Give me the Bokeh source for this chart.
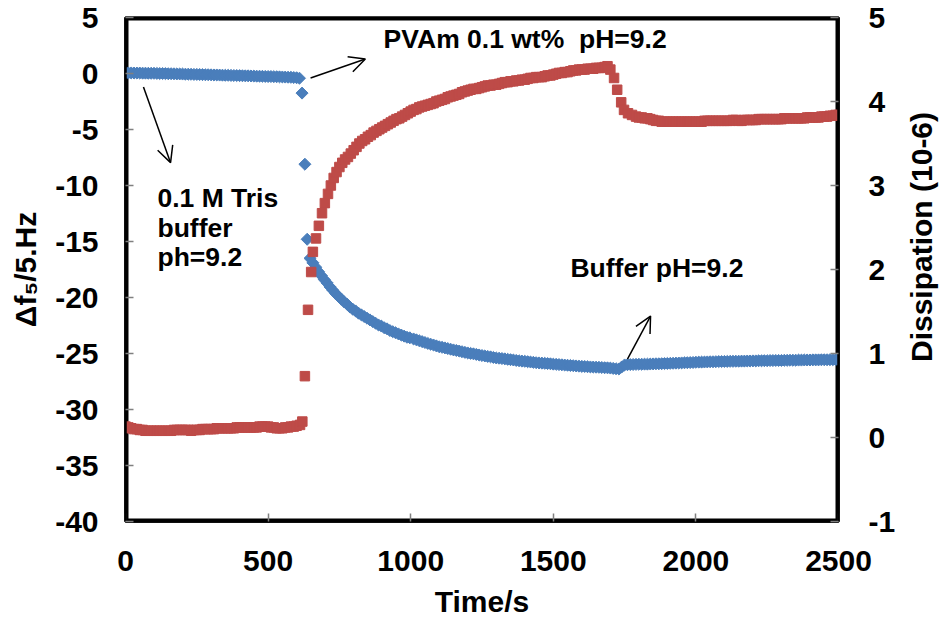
import numpy as np
from bokeh.plotting import figure
from bokeh.layouts import row
from bokeh.models import (Range1d, LinearAxis, FixedTicker, Label, Arrow, OpenHead,
                          CustomJSTickFormatter)
from bokeh.core.properties import value
from bokeh.embed import file_html
from bokeh.resources import INLINE

# ---- data: frequency shift  Δf5/5 (Hz), left axis (sampled every ~10 s) ----
time_f = (list(range(0, 611, 10)) + [619, 629, 637, 647]
          + list(range(657, 1000, 10)) + list(range(1010, 2501, 10)))
freq_shift = [
    0.05, 0.05, 0.05, 0.04, 0.04, 0.04, 0.03, 0.03, 0.02, 0.02,
    0.02, 0.01, 0.0, 0.0, -0.01, -0.02, -0.02, -0.03, -0.04, -0.04,
    -0.05, -0.06, -0.06, -0.07, -0.08, -0.08, -0.09, -0.1, -0.11, -0.11,
    -0.12, -0.13, -0.13, -0.14, -0.15, -0.16, -0.16, -0.17, -0.18, -0.18,
    -0.19, -0.2, -0.21, -0.21, -0.22, -0.23, -0.24, -0.24, -0.25, -0.26,
    -0.27, -0.27, -0.28, -0.29, -0.3, -0.31, -0.32, -0.33, -0.34, -0.36,
    -0.38, -0.42,
    -1.75, -8.1, -14.8, -16.5,
    -16.9, -17.3, -17.7, -18.05, -18.4, -18.7, -19.05, -19.35, -19.65, -19.9,
    -20.15, -20.4, -20.6, -20.85, -21.05, -21.2, -21.4, -21.55, -21.7, -21.85,
    -22.0, -22.15, -22.3, -22.45, -22.55, -22.7, -22.8, -22.95, -23.05, -23.15,
    -23.25, -23.35, -23.45, -23.55, -23.6,
    -23.7, -23.78, -23.86, -23.94, -24.02, -24.1, -24.17, -24.24, -24.32, -24.4,
    -24.45, -24.5, -24.56, -24.62, -24.68, -24.73, -24.78, -24.84, -24.9, -24.95,
    -24.99, -25.03, -25.08, -25.13, -25.18, -25.22, -25.26, -25.3, -25.35, -25.4,
    -25.42, -25.45, -25.48, -25.52, -25.55, -25.58, -25.62, -25.65, -25.68, -25.7,
    -25.73, -25.76, -25.79, -25.82, -25.84, -25.86, -25.88, -25.9, -25.92, -25.95,
    -25.97, -25.99, -26.01, -26.03, -26.05, -26.07, -26.09, -26.11, -26.13, -26.15,
    -26.16, -26.18, -26.2, -26.21, -26.22, -26.23, -26.25, -26.27, -26.28, -26.3,
    -26.33, -26.36, -26.38, -26.2, -26.02, -26.0, -25.99, -25.98, -25.97, -25.96,
    -25.96, -25.95, -25.95, -25.94, -25.93, -25.92, -25.92, -25.91, -25.9, -25.89,
    -25.88, -25.87, -25.86, -25.85, -25.84, -25.83, -25.82, -25.81, -25.8, -25.78,
    -25.77, -25.77, -25.76, -25.75, -25.74, -25.74, -25.73, -25.72, -25.72, -25.71,
    -25.71, -25.7, -25.7, -25.69, -25.69, -25.68, -25.68, -25.67, -25.67, -25.66,
    -25.66, -25.65, -25.65, -25.64, -25.64, -25.63, -25.63, -25.62, -25.62, -25.62,
    -25.61, -25.61, -25.6, -25.6, -25.6, -25.59, -25.59, -25.58, -25.58, -25.58,
    -25.57, -25.57, -25.57, -25.56, -25.56, -25.56, -25.55, -25.55, -25.55, -25.55]

# ---- data: dissipation (10^-6), right axis ----
time_d = (list(range(0, 601, 10)) + [612, 620, 629, 640, 651, 657, 668, 678, 689, 699]
          + list(range(710, 1701, 10)) + [1713, 1724, 1738, 1748, 1762, 1776]
          + list(range(1790, 2501, 10)))
dissipation = [
    0.13, 0.12, 0.11, 0.10, 0.10, 0.09, 0.09, 0.08, 0.08, 0.08,
    0.08, 0.08, 0.08, 0.08, 0.08, 0.08, 0.08, 0.09, 0.09, 0.09,
    0.09, 0.09, 0.09, 0.08, 0.09, 0.09, 0.09, 0.10, 0.10, 0.10,
    0.10, 0.10, 0.11, 0.11, 0.11, 0.11, 0.11, 0.11, 0.11, 0.12,
    0.12, 0.12, 0.12, 0.12, 0.12, 0.12, 0.12, 0.13, 0.13, 0.13,
    0.13, 0.12, 0.12, 0.11, 0.11, 0.11, 0.12, 0.12, 0.13, 0.13,
    0.14,
    0.15, 0.19, 0.73, 1.52, 1.97, 2.21, 2.37, 2.52, 2.67, 2.79,
    2.90, 3.00, 3.09, 3.16, 3.22, 3.27, 3.31, 3.34, 3.38, 3.42,
    3.46, 3.50, 3.53, 3.55, 3.58, 3.60, 3.63, 3.65, 3.67, 3.69,
    3.71, 3.73, 3.75, 3.77, 3.79, 3.80, 3.82, 3.84, 3.86, 3.88,
    3.90, 3.91, 3.93, 3.94, 3.95, 3.96, 3.97, 3.98, 4.00, 4.01,
    4.02, 4.03, 4.05, 4.06, 4.07, 4.08, 4.09, 4.11, 4.12, 4.13,
    4.14, 4.15, 4.15, 4.16, 4.17, 4.18, 4.19, 4.19, 4.20, 4.20,
    4.21, 4.22, 4.23, 4.23, 4.24, 4.24, 4.25, 4.25, 4.26, 4.26,
    4.27, 4.28, 4.28, 4.29, 4.29, 4.29, 4.30, 4.31, 4.31, 4.32,
    4.33, 4.34, 4.34, 4.35, 4.35, 4.36, 4.37, 4.37, 4.38, 4.38,
    4.38, 4.39, 4.39, 4.39, 4.40, 4.40, 4.40, 4.41, 4.42, 4.38,
    4.28, 4.14, 3.99, 3.90, 3.86, 3.84,
    3.82, 3.81, 3.81, 3.80, 3.80, 3.79, 3.78, 3.77, 3.77, 3.76,
    3.76, 3.76, 3.76, 3.76, 3.76, 3.76, 3.76, 3.76, 3.76, 3.76,
    3.76, 3.76, 3.76, 3.76, 3.77, 3.77, 3.77, 3.77, 3.77, 3.77,
    3.77, 3.77, 3.77, 3.77, 3.78, 3.78, 3.77, 3.77, 3.78, 3.78,
    3.78, 3.78, 3.78, 3.79, 3.79, 3.79, 3.79, 3.79, 3.79, 3.79,
    3.79, 3.79, 3.80, 3.80, 3.80, 3.80, 3.80, 3.80, 3.80, 3.80,
    3.81, 3.81, 3.81, 3.81, 3.81, 3.82, 3.82, 3.82, 3.83, 3.83,
    3.84, 3.84]

assert len(time_f) == len(freq_shift), (len(time_f), len(freq_shift))
assert len(time_d) == len(dissipation), (len(time_d), len(dissipation))

x_range_limits = (0, 2500)
left_limits = (-40, 5)
right_limits = (-1, 5)
x_ticks = [0, 500, 1000, 1500, 2000, 2500]
left_ticks = [-40, -35, -30, -25, -20, -15, -10, -5, 0, 5]
right_ticks = [-1, 0, 1, 2, 3, 4, 5]
right_title = "Dissipation (10-6)"

FONT = "Liberation Sans"
BLUE = "#4a7ebb"
RED = "#be4b48"

MAIN_W, TITLE_W, H = 902, 38, 620

p = figure(width=MAIN_W, height=H, x_range=Range1d(*x_range_limits),
           y_range=Range1d(*left_limits),
           output_backend="svg", toolbar_location=None,
           min_border_left=125, min_border_right=64, min_border_top=17, min_border_bottom=97)
p.extra_y_ranges = {"diss": Range1d(*right_limits)}
p.grid.visible = False
p.outline_line_color = "black"
p.outline_line_width = 2.5
p.background_fill_color = "white"
p.border_fill_color = "white"

right_axis = LinearAxis(y_range_name="diss")
p.add_layout(right_axis, "right")
bottom_axis = p.xaxis[0]
left_axis = p.yaxis[0]

bottom_axis.ticker = FixedTicker(ticks=x_ticks)
left_axis.ticker = FixedTicker(ticks=left_ticks)
right_axis.ticker = FixedTicker(ticks=right_ticks)
left_axis.formatter = CustomJSTickFormatter(code="return tick.toString();")
right_axis.formatter = CustomJSTickFormatter(code="return tick.toString();")

bottom_axis.axis_label = "Time/s"
left_axis.axis_label = "Δf₅/5.Hz"

for ax in [bottom_axis, left_axis, right_axis]:
    ax.axis_line_color = "black"
    ax.axis_line_width = 2.5
    ax.major_tick_in = 8
    ax.major_tick_out = 0
    ax.major_tick_line_color = "#808080"
    ax.major_tick_line_width = 1.5
    ax.minor_tick_line_color = None
    ax.major_label_text_font = FONT
    ax.major_label_text_font_size = "30px"
    ax.major_label_text_font_style = "bold"
    ax.major_label_text_color = "black"
    ax.axis_label_text_font = FONT
    ax.axis_label_text_font_size = "30px"
    ax.axis_label_text_font_style = "bold"
    ax.axis_label_text_color = "black"

bottom_axis.major_label_standoff = 29
bottom_axis.axis_label_standoff = 11
left_axis.major_label_standoff = 27
left_axis.axis_label_standoff = 10
right_axis.major_label_standoff = 30

# plot frame drawn as a box on the axis limits
p.quad(left=[x_range_limits[0]], right=[x_range_limits[1]],
       bottom=[left_limits[0]], top=[left_limits[1]],
       fill_color=None, line_color="black", line_width=6)

p.scatter(time_f, freq_shift, marker="square", angle=np.pi / 4, size=8.5,
          fill_color=BLUE, line_color=BLUE)
p.scatter(time_d, dissipation, marker="square", size=9.5, y_range_name="diss",
          fill_color=RED, line_color=RED)

def add_text(x, y, txt):
    p.add_layout(Label(x=x, y=y, text=txt, text_font=FONT, text_font_size="26.5px",
                       text_font_style="bold", text_color="black",
                       text_align="left", text_baseline="alphabetic"))

add_text(905, 3.07, "PVAm 0.1 wt%\u00a0 pH=9.2")
add_text(112, -11.08, "0.1 M Tris")
add_text(112, -13.75, "buffer")
add_text(112, -16.4, "ph=9.2")
add_text(1560, -17.4, "Buffer pH=9.2")

for xs, ys, xe, ye in [(63, -1.2, 158, -7.96), (649, -0.4, 841, 1.29), (1760, -25.5, 1841, -21.66)]:
    p.add_layout(Arrow(end=OpenHead(size=16, line_width=1.5, line_color="black"),
                       x_start=xs, y_start=ys, x_end=xe, y_end=ye,
                       line_width=1.5, line_color="black"))

# narrow strip holding the right-hand axis title (reads bottom to top)
p2 = figure(width=TITLE_W, height=H, x_range=Range1d(0, TITLE_W), y_range=Range1d(0, H),
            output_backend="svg", toolbar_location=None, min_border=0,
            min_border_left=0, min_border_right=0, min_border_top=0, min_border_bottom=0)
p2.axis.visible = False
p2.grid.visible = False
p2.outline_line_color = None
p2.background_fill_color = "white"
p2.border_fill_color = "white"
p2.text(x=[TITLE_W / 2], y=[H - 270], text=[right_title], angle=np.pi / 2,
        text_align="center", text_baseline="middle", text_color="black",
        text_font=value(FONT), text_font_size="30px", text_font_style="bold")

layout = row(p, p2, spacing=0)
open("out.html", "w").write(file_html(layout, INLINE))
